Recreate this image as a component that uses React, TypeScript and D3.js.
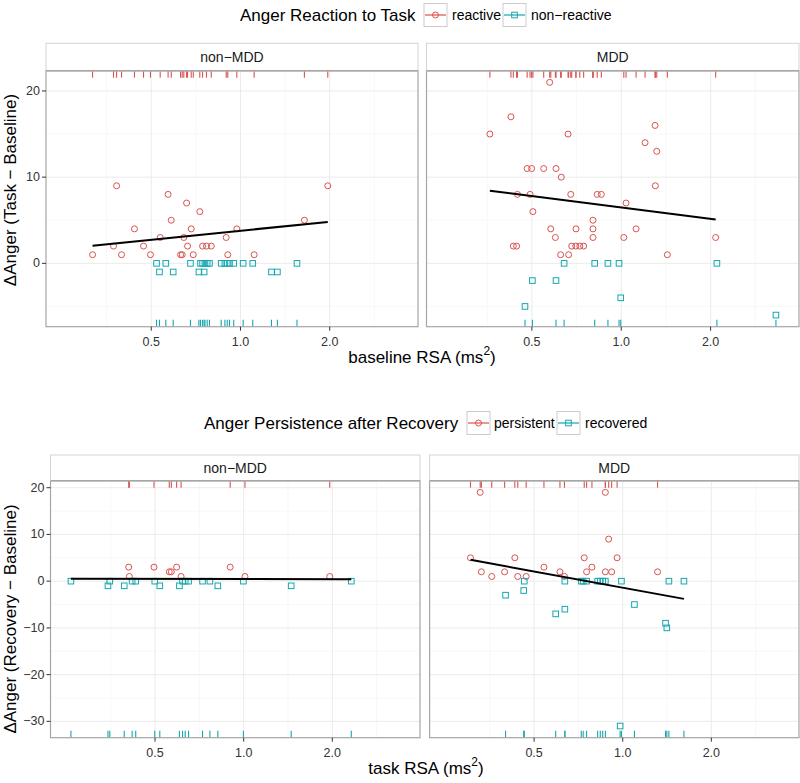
import React from "react";
import * as d3 from "d3";

const W = 800;
const H = 783;
const RED = "#D9534F";
const TEAL = "#15A7AE";
const FONT = "'Liberation Sans', Arial, Helvetica, sans-serif";

// ---------- data ----------
const X_DOMAIN = [0.2208, 3.97];
const X_TICKS = [0.5, 1, 2];
const X_TICK_LABELS = ["0.5", "1.0", "2.0"];
const X_MINOR = [0.3536, 0.7071, 1.4142, 2.8284];

const TOP_Y_DOMAIN = [-7.35, 22.35];
const TOP_Y_TICKS = [0, 10, 20];
const TOP_Y_TICK_LABELS = ["0", "10", "20"];
const TOP_Y_MINOR = [-5, 5, 15];

const BOT_Y_DOMAIN = [-33.5, 21.5];
const BOT_Y_TICKS = [-30, -20, -10, 0, 10, 20];
const BOT_Y_TICK_LABELS = ["\u221230", "\u221220", "\u221210", "0", "10", "20"];
const BOT_Y_MINOR = [-25, -15, -5, 5, 15];

const FACETS = ["non\u2212MDD", "MDD"];

// Top: Anger reaction to task, non-MDD
const topNonReactiveX = [0.317, 0.373, 0.382, 0.397, 0.439, 0.471, 0.497, 0.536, 0.57, 0.584, 0.628, 0.636, 0.644, 0.658, 0.663, 0.682, 0.693, 0.729, 0.745, 0.768, 0.797, 0.895, 0.906, 0.972, 1.112, 1.643, 1.97];
const topNonReactiveY = [1, 2, 9, 1, 4, 2, 1, 3, 8, 5, 1, 1, 3, 7, 2, 4, 1, 6, 2, 2, 2, 3, 1, 4, 1, 5, 9];
const topNonNonReactiveX = [0.521, 0.56, 0.678, 0.733, 0.745, 0.759, 0.772, 0.786, 0.861, 0.886, 0.902, 0.918, 0.949, 1.021, 1.1, 1.551, 0.533, 0.593, 0.724, 0.754, 1.272, 1.332];
const topNonNonReactiveY = [0, 0, 0, 0, 0, 0, 0, 0, 0, 0, 0, 0, 0, 0, 0, 0, -1, -1, -1, -1, -1, -1];
const topNonFitX = [0.317, 1.97];
const topNonFitY = [2.04, 4.81];

// Top: MDD
const topMddReactiveX = [0.361, 0.425, 0.433, 0.444, 0.447, 0.482, 0.499, 0.493, 0.504, 0.548, 0.574, 0.579, 0.6, 0.603, 0.625, 0.665, 0.628, 0.662, 0.676, 0.681, 0.703, 0.725, 0.747, 0.704, 0.803, 0.803, 0.803, 0.83, 0.857, 1.02, 1.038, 1.122, 1.203, 1.3, 1.303, 1.317, 1.43, 2.08];
const topMddReactiveY = [15, 17, 2, 2, 8, 11, 11, 8, 6, 11, 21, 4, 3, 11, 1, 1, 10, 15, 8, 2, 2, 2, 2, 4, 5, 4, 3, 8, 8, 3, 7, 4, 14, 16, 9, 13, 1, 3];
const topMddNonReactiveX = [0.642, 0.814, 0.902, 0.983, 2.1, 0.502, 0.603, 0.996, 0.474, 3.32];
const topMddNonReactiveY = [0, 0, 0, 0, 0, -2, -2, -4, -5, -6];
const topMddFitX = [0.361, 2.08];
const topMddFitY = [8.42, 5.08];

// Bottom: Anger persistence after recovery, non-MDD
const botNonPersistentX = [0.407, 0.409, 0.496, 0.559, 0.568, 0.592, 0.613, 0.9, 1.01, 1.96];
const botNonPersistentY = [3, 1, 3, 2, 2, 3, 1, 3, 1, 1];
const botNonRecoveredX = [0.259, 0.346, 0.351, 0.393, 0.418, 0.43, 0.499, 0.519, 0.605, 0.62, 0.633, 0.65, 0.725, 0.768, 0.817, 0.998, 1.45, 2.32];
const botNonRecoveredY = [0, -1, 0, -1, 0, 0, 0, -1, -1, 0, 0, 0, 0, 0, -1, 0, -1, 0];
const botNonFitX = [0.259, 2.32];
const botNonFitY = [0.5, 0.43];

// Bottom: MDD
const botMddPersistentX = [0.304, 0.328, 0.331, 0.359, 0.397, 0.43, 0.44, 0.47, 0.54, 0.612, 0.634, 0.74, 0.754, 0.786, 0.873, 0.873, 0.896, 0.917, 0.957, 1.313];
const botMddPersistentY = [5, 19, 2, 1, 2, 5, 1, 1, 3, 2, 1, 5, 2, 3, 19, 2, 9, 2, 5, 2];
const botMddRecoveredX = [0.4, 0.463, 0.461, 0.592, 0.636, 0.636, 0.723, 0.734, 0.754, 0.822, 0.839, 0.855, 0.873, 0.99, 0.98, 1.096, 1.398, 1.412, 1.435, 1.614];
const botMddRecoveredY = [-3, 0, -2, -7, 0, -6, 0, 0, 0, 0, 0, 0, 0, 0, -31, -5, -9, -10, 0, 0];
const botMddFitX = [0.304, 1.614];
const botMddFitY = [4.57, -3.79];

// ---------- components ----------
type PanelProps = {
  x0: number; x1: number; y0: number; y1: number; stripTop: number;
  label: string; yDomain: number[]; yTicks: number[]; yTickLabels: string[]; yMinor: number[];
  showY: boolean;
  ax: number[]; ay: number[]; bx: number[]; by: number[];
  fx: number[]; fy: number[];
};

const Circle = ({ cx, cy, color }: { cx: number; cy: number; color: string }) => (
  <circle cx={cx} cy={cy} r={3} fill="none" stroke={color} strokeWidth={1} />
);
const Square = ({ cx, cy, color }: { cx: number; cy: number; color: string }) => (
  <rect x={cx - 2.8} y={cy - 2.8} width={5.6} height={5.6} fill="none" stroke={color} strokeWidth={1} />
);

function Panel(p: PanelProps) {
  const xs = d3.scaleLog().domain(X_DOMAIN).range([p.x0, p.x1]);
  const ys = d3.scaleLinear().domain(p.yDomain).range([p.y1, p.y0]);
  const line = d3.line<number>().x((_, i) => xs(p.fx[i])).y((d) => ys(d));
  const rugLen = 7;
  return (
    <g>
      <rect x={p.x0} y={p.y0} width={p.x1 - p.x0} height={p.y1 - p.y0} fill="#fff" />
      {X_MINOR.map((v) => (
        <line key={"xm" + v} x1={xs(v)} x2={xs(v)} y1={p.y0} y2={p.y1} stroke="#F4F4F4" strokeWidth={0.6} />
      ))}
      {p.yMinor.map((v) => (
        <line key={"ym" + v} x1={p.x0} x2={p.x1} y1={ys(v)} y2={ys(v)} stroke="#F4F4F4" strokeWidth={0.6} />
      ))}
      {X_TICKS.map((v) => (
        <line key={"xg" + v} x1={xs(v)} x2={xs(v)} y1={p.y0} y2={p.y1} stroke="#EBEBEB" strokeWidth={1} />
      ))}
      {p.yTicks.map((v) => (
        <line key={"yg" + v} x1={p.x0} x2={p.x1} y1={ys(v)} y2={ys(v)} stroke="#EBEBEB" strokeWidth={1} />
      ))}
      {p.ax.map((v, i) => (
        <line key={"ra" + i} x1={xs(v)} x2={xs(v)} y1={p.y0} y2={p.y0 + rugLen} stroke={RED} strokeWidth={1.1} />
      ))}
      {p.bx.map((v, i) => (
        <line key={"rb" + i} x1={xs(v)} x2={xs(v)} y1={p.y1} y2={p.y1 - rugLen} stroke={TEAL} strokeWidth={1.1} />
      ))}
      {p.ax.map((v, i) => (
        <Circle key={"pa" + i} cx={xs(v)} cy={ys(p.ay[i])} color={RED} />
      ))}
      {p.bx.map((v, i) => (
        <Square key={"pb" + i} cx={xs(v)} cy={ys(p.by[i])} color={TEAL} />
      ))}
      <path d={line(p.fy) || ""} fill="none" stroke="#000" strokeWidth={2} />
      <rect x={p.x0} y={p.y0} width={p.x1 - p.x0} height={p.y1 - p.y0} fill="none" stroke="#A6A6A6" strokeWidth={1.2} />
      <rect x={p.x0} y={p.stripTop} width={p.x1 - p.x0} height={p.y0 - p.stripTop} fill="#fff" stroke="#D4D4D4" strokeWidth={1} />
      <line x1={p.x0} x2={p.x1} y1={p.y0} y2={p.y0} stroke="#A6A6A6" strokeWidth={1.4} />
      <text x={(p.x0 + p.x1) / 2} y={(p.stripTop + p.y0) / 2} textAnchor="middle" dominantBaseline="central" fontSize={14} fill="#1a1a1a">{p.label}</text>
      {X_TICKS.map((v, i) => (
        <g key={"xt" + v}>
          <line x1={xs(v)} x2={xs(v)} y1={p.y1} y2={p.y1 + 4} stroke="#333" strokeWidth={1} />
          <text x={xs(v)} y={p.y1 + 15} textAnchor="middle" dominantBaseline="central" fontSize={12.5} fill="#333">{X_TICK_LABELS[i]}</text>
        </g>
      ))}
      {p.showY && p.yTicks.map((v, i) => (
        <g key={"yt" + v}>
          <line x1={p.x0 - 4} x2={p.x0} y1={ys(v)} y2={ys(v)} stroke="#333" strokeWidth={1} />
          <text x={p.x0 - 6} y={ys(v)} textAnchor="end" dominantBaseline="central" fontSize={12.5} fill="#333">{p.yTickLabels[i]}</text>
        </g>
      ))}
    </g>
  );
}

type LegendProps = { titleX: number; cy: number; title: string; keyX: number[]; labelX: number[]; labels: string[] };
function Legend(l: LegendProps) {
  const k = 23;
  return (
    <g>
      <text x={l.titleX} y={l.cy} dominantBaseline="central" fontSize={17} fill="#000">{l.title}</text>
      {l.keyX.map((kx, i) => {
        const col = i === 0 ? RED : TEAL;
        const cx = kx + k / 2;
        return (
          <g key={i}>
            <rect x={kx} y={l.cy - k / 2} width={k} height={k} fill="#fff" stroke="#CCCCCC" strokeWidth={1} />
            <line x1={kx + 1} x2={kx + k - 1} y1={l.cy} y2={l.cy} stroke={col} strokeWidth={1.2} />
            {i === 0 ? <Circle cx={cx} cy={l.cy} color={col} /> : <Square cx={cx} cy={l.cy} color={col} />}
            <text x={l.labelX[i]} y={l.cy} dominantBaseline="central" fontSize={14} fill="#000">{l.labels[i]}</text>
          </g>
        );
      })}
    </g>
  );
}

const XTitle = ({ x, y, label }: { x: number; y: number; label: string }) => (
  <text x={x} y={y} textAnchor="middle" dominantBaseline="central" fontSize={17} fill="#000">
    <tspan>{label} (ms</tspan>
    <tspan dy={-6} fontSize={12}>2</tspan>
    <tspan dy={6}>)</tspan>
  </text>
);

export default function App() {
  const top = { y0: 70.7, y1: 326.7, stripTop: 43.3 };
  const bot = { y0: 480.7, y1: 737.7, stripTop: 455 };
  return (
    <svg width={W} height={H} style={{ display: "block", position: "absolute", left: 0, top: 0, fontFamily: FONT }}>
      <rect width={W} height={H} fill="#fff" />
      <Legend titleX={240} cy={15} title="Anger Reaction to Task" keyX={[424, 503]} labelX={[452, 531]} labels={["reactive", "non\u2212reactive"]} />
      <Panel x0={46} x1={418} {...top} label={FACETS[0]} yDomain={TOP_Y_DOMAIN} yTicks={TOP_Y_TICKS} yTickLabels={TOP_Y_TICK_LABELS} yMinor={TOP_Y_MINOR} showY
        ax={topNonReactiveX} ay={topNonReactiveY} bx={topNonNonReactiveX} by={topNonNonReactiveY} fx={topNonFitX} fy={topNonFitY} />
      <Panel x0={426.5} x1={799} {...top} label={FACETS[1]} yDomain={TOP_Y_DOMAIN} yTicks={TOP_Y_TICKS} yTickLabels={TOP_Y_TICK_LABELS} yMinor={TOP_Y_MINOR} showY={false}
        ax={topMddReactiveX} ay={topMddReactiveY} bx={topMddNonReactiveX} by={topMddNonReactiveY} fx={topMddFitX} fy={topMddFitY} />
      <XTitle x={422} y={357} label="baseline RSA" />
      <text transform={`translate(16,190) rotate(-90)`} textAnchor="middle" fontSize={17} fill="#000">{"\u0394Anger (Task \u2212 Baseline)"}</text>

      <Legend titleX={204} cy={423} title="Anger Persistence after Recovery" keyX={[467, 557]} labelX={[494, 585]} labels={["persistent", "recovered"]} />
      <Panel x0={50.5} x1={420} {...bot} label={FACETS[0]} yDomain={BOT_Y_DOMAIN} yTicks={BOT_Y_TICKS} yTickLabels={BOT_Y_TICK_LABELS} yMinor={BOT_Y_MINOR} showY
        ax={botNonPersistentX} ay={botNonPersistentY} bx={botNonRecoveredX} by={botNonRecoveredY} fx={botNonFitX} fy={botNonFitY} />
      <Panel x0={429.6} x1={799} {...bot} label={FACETS[1]} yDomain={BOT_Y_DOMAIN} yTicks={BOT_Y_TICKS} yTickLabels={BOT_Y_TICK_LABELS} yMinor={BOT_Y_MINOR} showY={false}
        ax={botMddPersistentX} ay={botMddPersistentY} bx={botMddRecoveredX} by={botMddRecoveredY} fx={botMddFitX} fy={botMddFitY} />
      <XTitle x={426} y={768} label="task RSA" />
      <text transform={`translate(16,619) rotate(-90)`} textAnchor="middle" fontSize={17} fill="#000">{"\u0394Anger (Recovery \u2212 Baseline)"}</text>
    </svg>
  );
}
